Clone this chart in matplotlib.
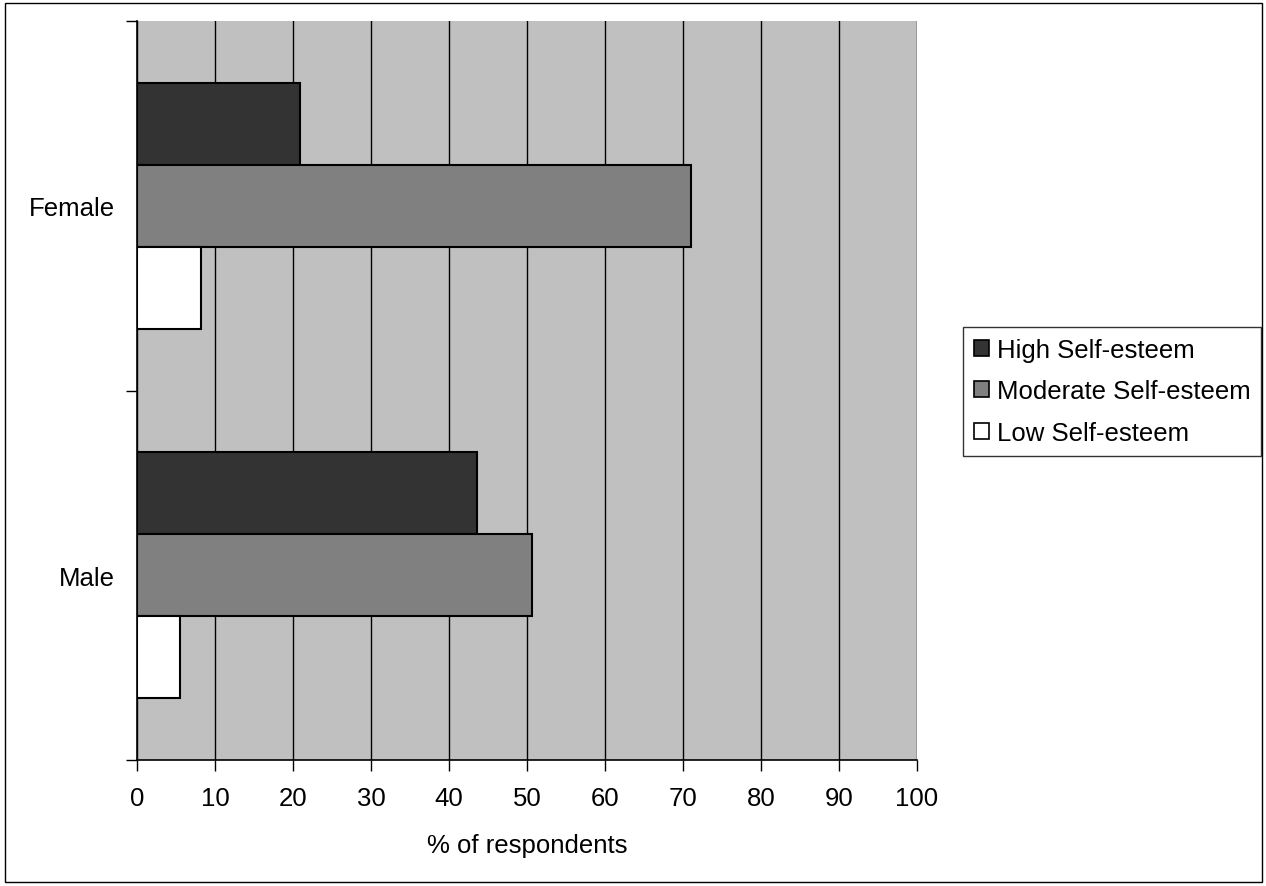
import matplotlib
matplotlib.use("Agg")
import matplotlib.pyplot as plt
from matplotlib.patches import Rectangle, Patch

plt.rcParams['font.family'] = ['Liberation Sans', 'DejaVu Sans']

categories = ["Male", "Female"]
series_names = ["High Self-esteem", "Moderate Self-esteem", "Low Self-esteem"]
high = [43.6, 20.9]
moderate = [50.6, 71.0]
low = [5.5, 8.2]
x_ticks = [0, 10, 20, 30, 40, 50, 60, 70, 80, 90, 100]
x_label = "% of respondents"

colors = ["#333333", "#808080", "#ffffff"]
FS = 18.5

W, H = 1266, 887
fig = plt.figure(figsize=(W / 100, H / 100), dpi=100)
fig.patch.set_facecolor("white")

# outer chart border
fig.add_artist(Rectangle((5 / W, 4 / H), (1262 - 5) / W, (883 - 4) / H,
                         transform=fig.transFigure, fill=False,
                         edgecolor="black", linewidth=1.0))

ax = fig.add_axes([137 / W, (H - 761) / H, (917 - 137) / W, (761 - 22) / H])
ax.set_facecolor("#c0c0c0")

bar_h = 1 / 4.5
offsets = [bar_h, 0.0, -bar_h]
for vals, off, col, name in zip([high, moderate, low], offsets, colors, series_names):
    ypos = [i + off for i in range(len(categories))]
    ax.barh(ypos, vals, height=bar_h, color=col, edgecolor="black",
            linewidth=1.5, label=name, zorder=3)

ax.set_xlim(0, 100)
ax.set_ylim(-0.5, len(categories) - 0.5)
ax.set_xticks(x_ticks)
ax.set_xticklabels([str(t) for t in x_ticks], fontsize=FS)
ax.xaxis.grid(True, color="black", linewidth=1.0, zorder=1)
ax.set_axisbelow(True)

# category boundary ticks, labels centred between them
ax.set_yticks([-0.5, 0.5, 1.5])
ax.set_yticklabels([])
ax.set_yticks(range(len(categories)), minor=True)
ax.set_yticklabels(categories, minor=True, fontsize=FS)
ax.tick_params(axis="y", which="minor", length=0, pad=16)
ax.tick_params(axis="y", which="major", length=8, width=1, direction="out")
ax.tick_params(axis="x", length=8, width=1, direction="out", pad=11)

for s in ["top", "right"]:
    ax.spines[s].set_visible(False)
for s in ["left", "bottom"]:
    ax.spines[s].set_color("black")
    ax.spines[s].set_linewidth(1.2)

ax.set_xlabel(x_label, fontsize=FS, labelpad=16)

handles = [Patch(facecolor=c, edgecolor="black", linewidth=1.2) for c in colors]
leg = fig.legend(handles, series_names, loc="upper left",
                 bbox_to_anchor=(963 / W, (H - 328) / H),
                 fontsize=FS, frameon=True, fancybox=False, shadow=False,
                 handlelength=0.6, handleheight=0.6, handletextpad=0.3,
                 borderpad=0.42, labelspacing=0.68, borderaxespad=0)
leg.get_frame().set_edgecolor("black")
leg.get_frame().set_linewidth(1.0)

fig.savefig("out.png", dpi=100, facecolor="white")
